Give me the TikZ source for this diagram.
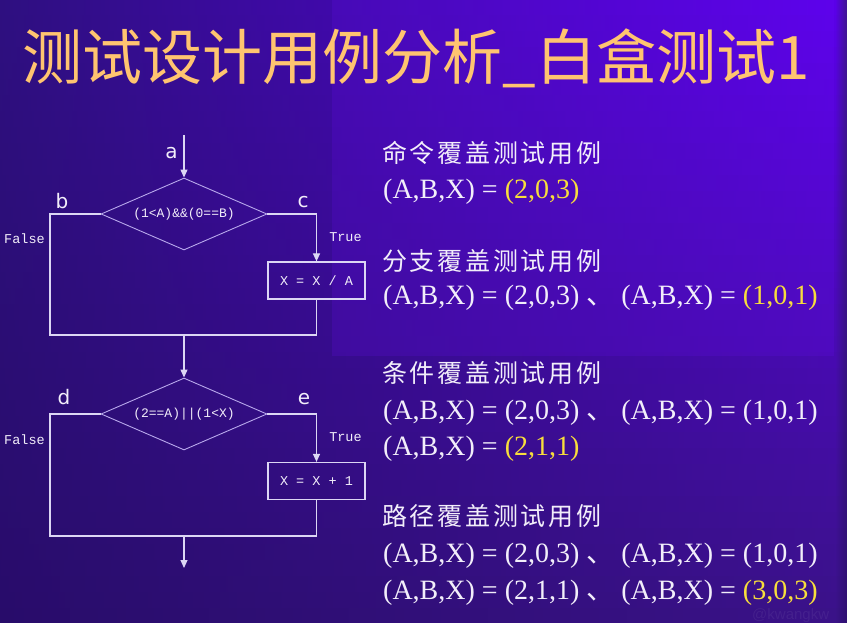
\documentclass[tikz,border=0pt]{standalone}
\usepackage{fontspec}
\setmainfont{Liberation Serif}
\newfontfamily\cjk{Noto Sans CJK SC}
\newfontfamily\cjkhead{Noto Sans CJK SC}[LetterSpace=11]
\newfontfamily\monof{Liberation Mono}
\newfontfamily\letterf{DejaVu Sans}
\newfontfamily\sansf{Liberation Sans}
\usetikzlibrary{shapes.geometric,arrows.meta,calc}

% slide palette
\definecolor{bgTL}{HTML}{2E0F80}
\definecolor{bgTR}{HTML}{5A00E8}
\definecolor{bgBL}{HTML}{280C6A}
\definecolor{bgBR}{HTML}{3A1288}
\definecolor{edgeT}{HTML}{3E1690}
\definecolor{edgeB}{HTML}{2E1070}
\definecolor{panel}{HTML}{7010FF}
\definecolor{titlecol}{HTML}{FFC470}
\definecolor{txt}{HTML}{F2EEFA}
\definecolor{hl}{HTML}{F8DE3C}
\definecolor{flow}{HTML}{DCD6F4}
\definecolor{flowthin}{HTML}{B8A8EC}

\tikzset{
  flowline/.style={draw=flow, line width=1.2pt},
  flowarrow/.style={flowline, -{Triangle[width=7pt,length=8pt]}},
  decision/.style={diamond, draw=flowthin, line width=0.9pt, shape aspect=2.3,
    minimum width=166pt, minimum height=72pt, inner sep=0pt,
    font=\monof\fontsize{13}{13}\selectfont, text=txt},
  action/.style={rectangle, draw=flow, line width=1.2pt,
    minimum width=97pt, minimum height=37pt, inner sep=0pt,
    font=\monof\fontsize{13.5}{13.5}\selectfont, text=txt},
  mono/.style={font=\monof\fontsize{13.5}{13.5}\selectfont, text=txt, inner sep=0pt},
  letter/.style={font=\letterf\fontsize{20}{20}\selectfont, text=txt, inner sep=0pt},
  heading/.style={anchor=base west, inner sep=0pt, text=txt,
    font=\cjkhead\fontsize{25}{25}\selectfont},
  caseline/.style={anchor=base west, inner sep=0pt, text=txt,
    font=\fontsize{28}{28}\selectfont},
}

\begin{document}
\begin{tikzpicture}[x=1pt,y=-1pt]
\useasboundingbox (0,0) rectangle (847,623);

% background: bands blending a left-right gradient from top to bottom
\foreach \i in {0,...,38}{
  \pgfmathtruncatemacro\t{round(100*\i/38)}
  \colorlet{bandL}{bgBL!\t!bgTL}
  \colorlet{bandR}{bgBR!\t!bgTR}
  \colorlet{bandE}{edgeB!\t!edgeT}
  \path[left color=bandL, right color=bandR] (0,16*\i) rectangle (835,16*\i+16.6);
  \path[left color=bandR, right color=bandE] (835,16*\i) rectangle (847,16*\i+16.6);
}
% lighter panel behind the upper right part
\fill[panel, fill opacity=0.16] (332,0) rectangle (834,356);

% faint mark at the lower right corner
\node[font=\sansf\fontsize{15}{15}\selectfont, text=white, text opacity=0.06,
      anchor=base west, inner sep=0pt] (mark) at (752,619.5) {@kwangkw};

% title
\node[font=\cjk\fontsize{60}{60}\selectfont, text=titlecol, inner sep=0pt]
  (title) at (416,58) {测试设计用例分析\_白盒测试1};

% ---------- flow chart ----------
\node[decision] (d1) at (184,214) {(1<A)\&\&(0==B)};
\node[action]   (b1) at (316.5,280.5) {X = X / A};
\node[decision] (d2) at (184,414) {(2==A)||(1<X)};
\node[action]   (b2) at (316.5,481) {X = X + 1};

\coordinate (start) at (184,135);
\coordinate (j1) at (184,335);
\coordinate (f1) at (50,335);
\coordinate (j2) at (184,536);
\coordinate (f2) at (50,536);
\coordinate (exit) at (184,568);

\draw[flowarrow] (start) -- (d1.north);
\draw[flowline]  (d1.west) -| (f1) -- (j1);
\draw[flowarrow] (d1.east) -| (b1.north);
\draw[flowline]  (b1.south) |- (j1);
\draw[flowarrow] (j1) -- (d2.north);
\draw[flowline]  (d2.west) -| (f2) -- (j2);
\draw[flowarrow] (d2.east) -| (b2.north);
\draw[flowline]  (b2.south) |- (j2);
\draw[flowarrow] (j2) -- (exit);

\node[letter] (la) at (171.5,153) {a};
\node[letter] (lb) at (62,201.5) {b};
\node[letter] (lc) at (303,202.5) {c};
\node[letter] (ld) at (64,397.5) {d};
\node[letter] (le) at (304,399) {e};

\node[mono] (false1) at (24.5,239) {False};
\node[mono] (true1)  at (345.5,237) {True};
\node[mono] (false2) at (24.5,440) {False};
\node[mono] (true2)  at (345.5,437) {True};

% ---------- test cases ----------
\node[heading]  (h1) at (382,163) {命令覆盖测试用例};
\node[caseline] (c1) at (383,199) {(A,B,X) = \textcolor{hl}{(2,0,3)}};

\node[heading]  (h2) at (382,270) {分支覆盖测试用例};
\node[caseline] (c2) at (383,305) {(A,B,X) = (2,0,3)\ {\cjk 、}\ (A,B,X) = \textcolor{hl}{(1,0,1)}};

\node[heading]  (h3) at (382,382) {条件覆盖测试用例};
\node[caseline] (c3) at (383,419) {(A,B,X) = (2,0,3)\ {\cjk 、}\ (A,B,X) = (1,0,1)};
\node[caseline] (c4) at (383,455) {(A,B,X) = \textcolor{hl}{(2,1,1)}};

\node[heading]  (h4) at (382,525) {路径覆盖测试用例};
\node[caseline] (c5) at (383,562) {(A,B,X) = (2,0,3)\ {\cjk 、}\ (A,B,X) = (1,0,1)};
\node[caseline] (c6) at (383,599) {(A,B,X) = (2,1,1)\ {\cjk 、}\ (A,B,X) = \textcolor{hl}{(3,0,3)}};
\end{tikzpicture}
\end{document}
